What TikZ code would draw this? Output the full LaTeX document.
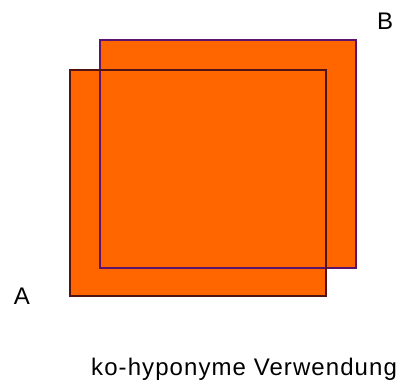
\documentclass[tikz,border=0pt]{standalone}
\usepackage{fontspec}
\setmainfont{Liberation Sans}
\newfontfamily\captionfont[LetterSpace=4.5]{Liberation Sans}
\usetikzlibrary{positioning}

\definecolor{fillorange}{RGB}{255,102,0}
\definecolor{edgeA}{RGB}{80,20,20}
\definecolor{edgeB}{RGB}{90,20,110}

\begin{document}
\begin{tikzpicture}[x=1pt,y=-1pt]
\useasboundingbox (0,0) rectangle (406,383);
\fill[fillorange] (100,40) rectangle (356,268);
\fill[fillorange] (70,70) rectangle (326,296);
\draw[edgeB, line width=1.4pt] (100,40) rectangle (356,268);
\draw[edgeA, line width=1.4pt] (70,70) rectangle (326,296);
\node[font=\fontsize{24}{26}\selectfont, inner sep=0pt, anchor=base] (labelB) at (385,29) {B};
\node[font=\fontsize{24}{26}\selectfont, inner sep=0pt, anchor=base] (labelA) at (22,304) {A};
\node[font=\captionfont\fontsize{24}{26}\selectfont, inner sep=0pt, anchor=base west] (caption) at (91,375) {ko-hyponyme Verwendung};
\end{tikzpicture}
\end{document}
